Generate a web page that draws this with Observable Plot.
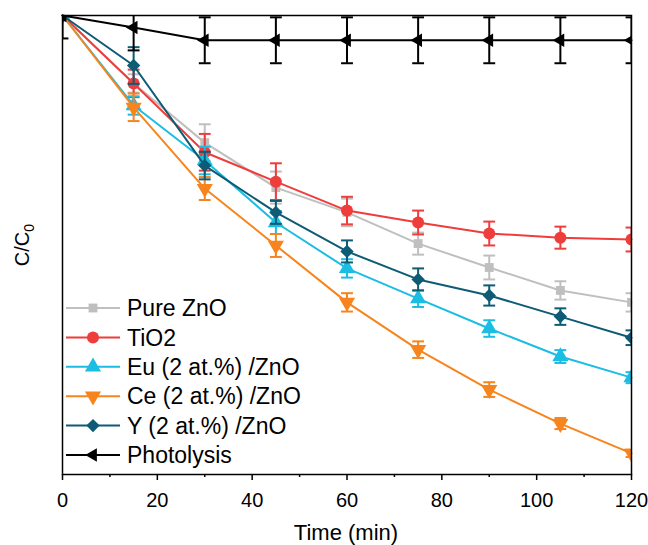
<!DOCTYPE html>
<html>
<head>
<meta charset="utf-8">
<script src="https://cdn.jsdelivr.net/npm/d3@7"></script>
<script src="https://cdn.jsdelivr.net/npm/@observablehq/plot@0.6"></script>
<style>
  html, body { margin: 0; padding: 0; background: #fff; }
  #chart { width: 648px; height: 545px; }
</style>
</head>
<body>
<div id="chart"></div>
<script>
const times = [0, 15, 30, 45, 60, 75, 90, 105, 120];
const seriesNames = ["Pure ZnO", "TiO2", "Eu (2 at.%) /ZnO", "Ce (2 at.%) /ZnO", "Y (2 at.%) /ZnO", "Photolysis"];
const colors = ["#bfbfbf", "#ee3d3b", "#1bbde3", "#f7841d", "#0d5b74", "#000000"];

const pureZnO     = [1.000, 0.852, 0.723, 0.625, 0.571, 0.503, 0.451, 0.401, 0.375];
const pureZnOErr  = [0.000, 0.020, 0.040, 0.035, 0.030, 0.024, 0.026, 0.020, 0.020];
const tio2        = [1.000, 0.852, 0.702, 0.638, 0.575, 0.549, 0.525, 0.516, 0.512];
const tio2Err     = [0.000, 0.030, 0.040, 0.040, 0.030, 0.026, 0.026, 0.024, 0.026];
const euZnO       = [1.000, 0.804, 0.684, 0.549, 0.449, 0.383, 0.318, 0.257, 0.211];
const euZnOErr    = [0.000, 0.020, 0.030, 0.025, 0.020, 0.018, 0.018, 0.014, 0.012];
const ceZnO       = [1.000, 0.800, 0.623, 0.499, 0.375, 0.272, 0.185, 0.111, 0.046];
const ceZnOErr    = [0.000, 0.030, 0.025, 0.025, 0.020, 0.018, 0.016, 0.012, 0.008];
const yZnO        = [1.000, 0.891, 0.673, 0.571, 0.486, 0.425, 0.390, 0.344, 0.298];
const yZnOErr     = [0.000, 0.040, 0.030, 0.025, 0.024, 0.024, 0.022, 0.018, 0.016];
const photolysis    = [1.000, 0.974, 0.946, 0.946, 0.946, 0.946, 0.946, 0.946, 0.946];
const photolysisErr = [0.050, 0.050, 0.050, 0.050, 0.050, 0.050, 0.050, 0.050, 0.050];

const xTicks = [0, 20, 40, 60, 80, 100, 120];
const xMinorTicks = [10, 30, 50, 70, 90, 110];

const sqrt3 = Math.sqrt(3);
const triangleDown = {
  draw(ctx, size) {
    const k = Math.sqrt(size / (sqrt3 * 3));
    ctx.moveTo(0, 2 * k);
    ctx.lineTo(-sqrt3 * k, -k);
    ctx.lineTo(sqrt3 * k, -k);
    ctx.closePath();
  }
};
const triangleLeft = {
  draw(ctx, size) {
    const k = Math.sqrt(size / (sqrt3 * 3));
    ctx.moveTo(-2 * k, 0);
    ctx.lineTo(k, -sqrt3 * k);
    ctx.lineTo(k, sqrt3 * k);
    ctx.closePath();
  }
};
const symbols = [d3.symbolSquare, d3.symbolCircle, d3.symbolTriangle, triangleDown, d3.symbolDiamond2, triangleLeft];
const radii = [5, 6, 6, 6, 6, 5];

const valueSets = [pureZnO, tio2, euZnO, ceZnO, yZnO, photolysis];
const errSets = [pureZnOErr, tio2Err, euZnOErr, ceZnOErr, yZnOErr, photolysisErr];

const capHalf = 1.25; // minutes
const marks = [];
seriesNames.forEach((name, i) => {
  const rows = times.map((t, j) => ({t, v: valueSets[i][j], e: errSets[i][j]}));
  const errRows = rows.filter(d => d.e > 0);
  marks.push(Plot.line(rows, {x: "t", y: "v", stroke: colors[i], strokeWidth: 2}));
  marks.push(Plot.ruleX(errRows, {x: "t", y1: d => d.v - d.e, y2: d => d.v + d.e, stroke: colors[i], strokeWidth: 2, clip: true}));
  marks.push(Plot.link(errRows, {x1: d => d.t - capHalf, x2: d => d.t + capHalf, y1: d => d.v + d.e, y2: d => d.v + d.e, stroke: colors[i], strokeWidth: 2, clip: true}));
  marks.push(Plot.link(errRows, {x1: d => d.t - capHalf, x2: d => d.t + capHalf, y1: d => d.v - d.e, y2: d => d.v - d.e, stroke: colors[i], strokeWidth: 2, clip: true}));
  marks.push(Plot.dot(rows, {x: "t", y: "v", fill: colors[i], symbol: symbols[i], r: radii[i], clip: true}));
});

const chart = Plot.plot({
  width: 648,
  height: 545,
  marginLeft: 62,
  marginRight: 17,
  marginTop: 15,
  marginBottom: 71,
  style: {fontFamily: "'Liberation Sans', Arial, sans-serif", background: "#fff"},
  x: {domain: [0, 120], label: null},
  y: {domain: [0, 1], axis: null},
  marks: [
    ...marks,
    Plot.frame({stroke: "#000", strokeWidth: 1.5}),
    Plot.axisX({ticks: xTicks, tickSize: 6, tickPadding: 12, fontSize: 20, label: null, strokeWidth: 1.5}),
    Plot.axisX({ticks: xMinorTicks, tickSize: 3, text: null, label: null, strokeWidth: 1.5})
  ]
});

document.getElementById("chart").appendChild(chart);

const svg = d3.select(chart);
const FONT = "'Liberation Sans', Arial, sans-serif";
// axis titles
svg.append("text")
  .attr("x", 346).attr("y", 540)
  .attr("text-anchor", "middle")
  .attr("font-size", 22)
  .attr("font-family", FONT)
  .text("Time (min)");

const yl = svg.append("text")
  .attr("transform", "translate(29,245) rotate(-90)")
  .attr("text-anchor", "middle")
  .attr("font-size", 20)
  .attr("font-family", FONT);
yl.append("tspan").text("C/C");
yl.append("tspan").attr("font-size", 14).attr("dy", 5).text("0");

// legend
const lg = svg.append("g")
  .attr("font-family", FONT)
  .attr("font-size", 23)
  .attr("text-anchor", "start");
seriesNames.forEach((name, i) => {
  const cy = 308 + i * 29.4;
  lg.append("line").attr("x1", 66).attr("x2", 120).attr("y1", cy).attr("y2", cy)
    .attr("stroke", colors[i]).attr("stroke-width", 2);
  lg.append("path")
    .attr("transform", `translate(93,${cy})`)
    .attr("d", d3.symbol().type(symbols[i]).size(Math.PI * radii[i] * radii[i])())
    .attr("fill", colors[i]);
  lg.append("text").attr("x", 127).attr("y", cy).attr("dy", "0.36em").attr("text-anchor", "start").text(name);
});
</script>
</body>
</html>
